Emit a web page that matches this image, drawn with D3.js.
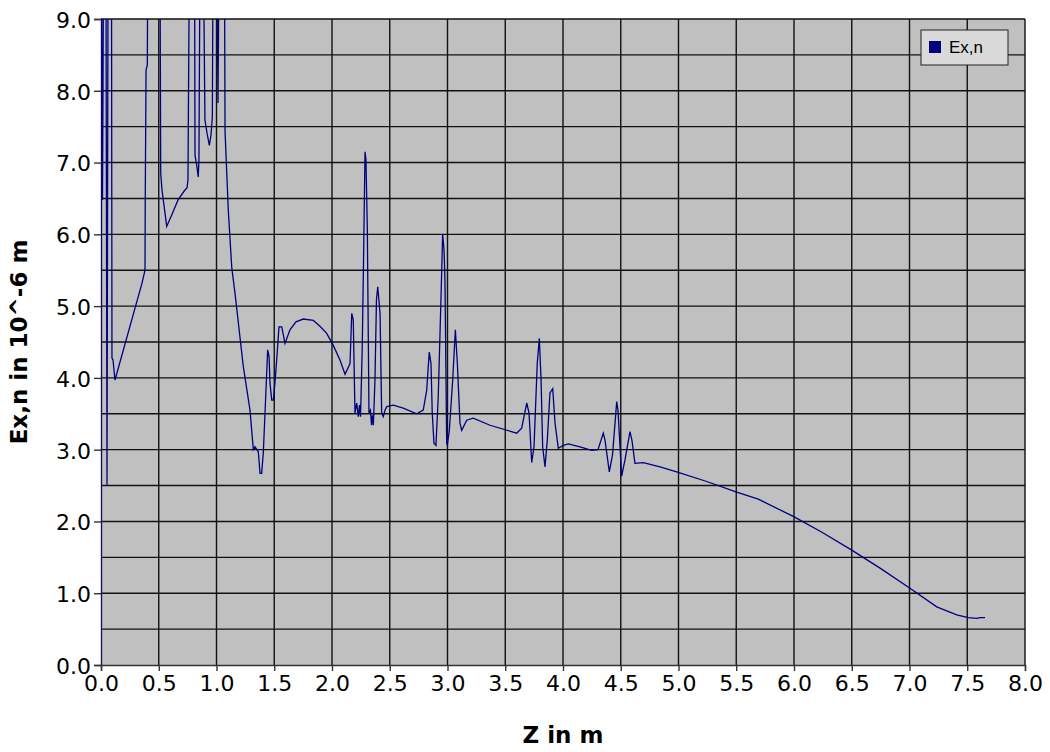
<!DOCTYPE html>
<html>
<head>
<meta charset="utf-8">
<script src="https://cdn.jsdelivr.net/npm/d3@7"></script>
<style>
  html, body { margin: 0; padding: 0; background: #fff; }
  svg { display: block; font-family: "DejaVu Sans", Verdana, sans-serif; }
</style>
</head>
<body>
<div id="chart"></div>
<script>
// Z position along the beam (m)
const zValues = [
  0, 0.004, 0.013, 0.022, 0.043, 0.052, 0.061, 0.091, 0.095, 0.104, 0.121,
  0.355, 0.381, 0.383, 0.390, 0.401, 0.405,
  0.511, 0.517, 0.528, 0.569, 0.615, 0.667, 0.719, 0.745, 0.753, 0.765,
  0.810, 0.814, 0.828, 0.842, 0.848, 0.857,
  0.887, 0.900, 0.918, 0.938, 0.952, 0.964, 0.970,
  1.004, 1.013, 1.022,
  1.069, 1.074, 1.102, 1.132, 1.160, 1.232, 1.290, 1.319, 1.333, 1.362, 1.377,
  1.391, 1.405, 1.420, 1.443, 1.455, 1.463, 1.478, 1.492, 1.506, 1.521, 1.541,
  1.565, 1.593, 1.636, 1.688, 1.752, 1.838, 1.896, 1.954, 2.009, 2.069, 2.113,
  2.156, 2.171, 2.184, 2.199, 2.214, 2.228, 2.238, 2.247, 2.262, 2.273, 2.286,
  2.294, 2.306, 2.320, 2.333, 2.342, 2.349, 2.358, 2.372, 2.385, 2.396, 2.416,
  2.430, 2.444, 2.459, 2.474, 2.531, 2.617, 2.733, 2.790, 2.820, 2.842, 2.857,
  2.868, 2.883, 2.900, 2.920, 2.944, 2.958, 2.970, 2.978, 2.993, 2.998, 3.016,
  3.045, 3.068, 3.085, 3.108, 3.123, 3.166, 3.223, 3.368, 3.599, 3.642, 3.686,
  3.706, 3.729, 3.749, 3.777, 3.795, 3.810, 3.824, 3.844, 3.864, 3.887, 3.911,
  3.931, 3.959, 4.003, 4.046, 4.147, 4.248, 4.303, 4.349, 4.364, 4.401, 4.429,
  4.465, 4.476, 4.508, 4.537, 4.580, 4.597, 4.623, 4.695, 4.840, 4.984, 5.238,
  5.504, 5.691, 5.994, 6.242, 6.500, 6.745, 7.004, 7.236, 7.409, 7.509, 7.582,
  7.610, 7.654
];

// normalised emittance Ex,n (10^-6 m); values above 9 run off the top of the plot
const exValues = [
  0, 9.8, 6.48, 9.8, 9.8, 2.51, 9.8, 9.8, 4.28, 4.25, 3.97,
  5.32, 5.50, 6.44, 8.29, 8.36, 9.8,
  9.8, 6.85, 6.62, 6.11, 6.28, 6.48, 6.60, 6.65, 6.76, 9.8,
  9.8, 7.10, 6.97, 6.80, 7.04, 9.8,
  9.8, 7.59, 7.41, 7.24, 7.38, 7.63, 9.8,
  9.8, 7.83, 9.8,
  9.8, 7.43, 6.34, 5.54, 5.18, 4.16, 3.55, 3.00, 3.04, 2.97, 2.67,
  2.67, 2.95, 3.51, 4.39, 4.30, 3.93, 3.69, 3.69, 3.93, 4.25, 4.71,
  4.71, 4.48, 4.67, 4.78, 4.82, 4.80, 4.72, 4.62, 4.46, 4.25, 4.05,
  4.20, 4.90, 4.81, 3.51, 3.65, 3.46, 3.62, 3.46, 4.43, 5.64, 7.15,
  7.04, 6.06, 3.51, 3.55, 3.34, 3.48, 3.34, 3.97, 5.09, 5.27, 4.90,
  3.51, 3.46, 3.55, 3.60, 3.62, 3.58, 3.50, 3.55, 3.83, 4.36, 4.20,
  3.51, 3.09, 3.06, 3.74, 5.13, 6.00, 5.78, 5.36, 3.09, 3.06, 3.27,
  3.97, 4.67, 4.21, 3.37, 3.27, 3.41, 3.44, 3.34, 3.23, 3.30, 3.65,
  3.51, 2.82, 3.04, 4.20, 4.55, 3.97, 3.04, 2.76, 3.13, 3.79, 3.85,
  3.37, 3.02, 3.06, 3.08, 3.04, 2.99, 3.00, 3.23, 3.13, 2.69, 2.93,
  3.67, 3.55, 2.63, 2.86, 3.25, 3.13, 2.81, 2.82, 2.76, 2.69, 2.56,
  2.41, 2.31, 2.07, 1.85, 1.60, 1.35, 1.07, 0.81, 0.70, 0.66, 0.65,
  0.66, 0.66
];

const xTicks = [0, 0.5, 1, 1.5, 2, 2.5, 3, 3.5, 4, 4.5, 5, 5.5, 6, 6.5, 7, 7.5, 8];
const yTicks = [0, 1, 2, 3, 4, 5, 6, 7, 8, 9];
const yGrid = [0.5, 1, 1.5, 2, 2.5, 3, 3.5, 4, 4.5, 5, 5.5, 6, 6.5, 7, 7.5, 8, 8.5, 9];
const xTitle = "Z in m";
const yTitle = "Ex,n in 10^-6 m";
const seriesName = "Ex,n";

const W = 1050, H = 752;
const plot = { left: 101, top: 19, right: 1025, bottom: 665 };

const svg = d3.select("#chart").append("svg")
  .attr("width", W).attr("height", H);

const x = d3.scaleLinear().domain([0, 8]).range([plot.left, plot.right]);
const y = d3.scaleLinear().domain([0, 9]).range([plot.bottom, plot.top]);

svg.append("rect")
  .attr("x", plot.left).attr("y", plot.top)
  .attr("width", plot.right - plot.left).attr("height", plot.bottom - plot.top)
  .attr("fill", "#c0c0c0");

// grid
svg.append("g").selectAll("line").data(xTicks.slice(1)).join("line")
  .attr("x1", d => x(d)).attr("x2", d => x(d))
  .attr("y1", plot.top).attr("y2", plot.bottom)
  .attr("stroke", "#111").attr("stroke-width", 1.4);
svg.append("g").selectAll("line").data(yGrid).join("line")
  .attr("x1", plot.left).attr("x2", plot.right)
  .attr("y1", d => y(d)).attr("y2", d => y(d))
  .attr("stroke", "#111").attr("stroke-width", 1.4);

// axes
const xAxis = svg.append("g")
  .attr("transform", `translate(0,${plot.bottom})`)
  .call(d3.axisBottom(x).tickValues(xTicks).tickFormat(d3.format(".1f")).tickSize(6).tickPadding(4));
const yAxis = svg.append("g")
  .attr("transform", `translate(${plot.left},0)`)
  .call(d3.axisLeft(y).tickValues(yTicks).tickFormat(d3.format(".1f")).tickSize(7).tickPadding(3));

[xAxis, yAxis].forEach(a => {
  a.select(".domain").attr("stroke", "#333").attr("stroke-width", 1.4);
  a.selectAll(".tick line").attr("stroke", "#333").attr("stroke-width", 1.4);
  a.selectAll("text").attr("fill", "#000")
    .style("font-family", "'DejaVu Sans', Verdana, sans-serif").style("font-size", "22px");
});
yAxis.selectAll("text").attr("dy", "0.38em");

// line
svg.append("clipPath").attr("id", "clip").append("rect")
  .attr("x", plot.left).attr("y", plot.top)
  .attr("width", plot.right - plot.left).attr("height", plot.bottom - plot.top);

const pts = zValues.map((z, i) => [z, exValues[i]]);
svg.append("path")
  .datum(pts)
  .attr("clip-path", "url(#clip)")
  .attr("fill", "none")
  .attr("stroke", "#000080")
  .attr("stroke-width", 1.3)
  .attr("d", d3.line().x(d => x(d[0])).y(d => y(d[1])));

// titles
svg.append("text")
  .attr("x", 563).attr("y", 743)
  .attr("text-anchor", "middle")
  .style("font-weight", "bold").style("font-size", "23px")
  .text(xTitle);
svg.append("text")
  .attr("transform", `translate(27,${(plot.top + plot.bottom) / 2}) rotate(-90)`)
  .attr("text-anchor", "middle")
  .style("font-weight", "bold").style("font-size", "23px")
  .text(yTitle);

// legend
const lg = svg.append("g").attr("transform", "translate(921,30)");
lg.append("rect").attr("width", 87).attr("height", 35)
  .attr("fill", "#d9d9d9").attr("stroke", "#222").attr("stroke-width", 1);
lg.append("rect").attr("x", 8).attr("y", 11).attr("width", 12).attr("height", 12)
  .attr("fill", "#000080");
lg.append("text").attr("x", 28).attr("y", 17.5).attr("dy", "0.35em")
  .style("font-family", "'Liberation Sans', Arial, sans-serif").style("font-size", "17px")
  .text(seriesName);
</script>
</body>
</html>
